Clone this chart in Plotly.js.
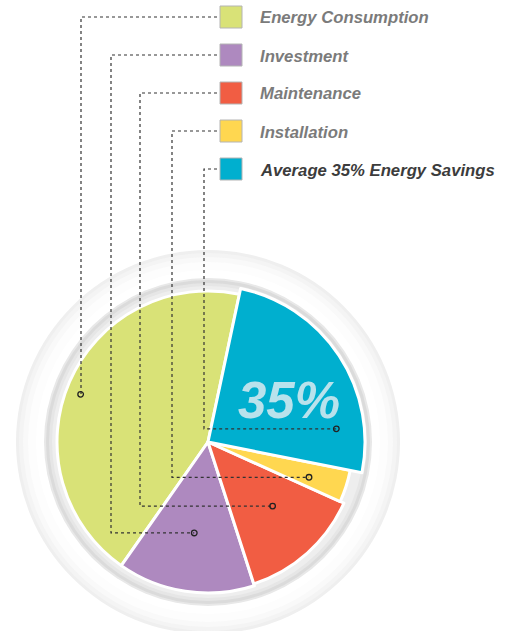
<!DOCTYPE html>
<html>
<head>
<meta charset="utf-8">
<script src="https://cdn.plot.ly/plotly-3.0.1.min.js"></script>
<style>html,body{margin:0;padding:0;background:#fff;}#chart{width:507px;height:631px;}</style>
</head>
<body>
<div id="chart"></div>
<script>
// ---- data ----
const categories = ['Energy Consumption', 'Investment', 'Maintenance', 'Installation', 'Average 35% Energy Savings'];
const shares = [43.6, 14.7, 13.3, 3.6, 24.8];
const highlightLabel = '35%';

// ---- style ----
const colors = ['#d9e277', '#ae89bf', '#f15d43', '#ffd750', '#00afcf'];
const W = 507, H = 631;
const cx = 208, cy = 442;            // pie centre (px)
const sliceRadius = [151, 151, 149, 145, 157];
const dotRadius = [136, 92, 91, 107, 129];
const dotAngleNudge = [-3, 0, -3.4, 1.5, 27.5];
const startAngle = 12;               // degrees clockwise from 12 o'clock (green/cyan boundary)
const rowY = [17, 55, 93, 131, 169];
const leaderX = [81, 111, 140, 172, 204];
const swatchX = 220, swatchSize = 22, textX = 258;
const textColors = ['#7b7b7b', '#7b7b7b', '#7b7b7b', '#7b7b7b', '#3c3c3c'];

const px = x => x / W;
const py = y => 1 - y / H;
const total = shares.reduce((a, b) => a + b, 0);
// plotly counterclockwise: first slice spans [rotation, rotation + share] clockwise
const rotation = startAngle - shares[0] / total * 360;

// pie traces: one per slice so each can have its own radius
const traces = categories.map((c, i) => {
  const r = sliceRadius[i];
  return {
    type: 'pie',
    labels: categories,
    values: shares,
    sort: false,
    direction: 'counterclockwise',
    rotation: rotation,
    textinfo: 'none',
    hoverinfo: 'none',
    showlegend: false,
    marker: {
      colors: colors.map((col, j) => j === i ? col : 'rgba(0,0,0,0)'),
      line: { color: '#ffffff', width: categories.map((_, j) => j === i ? 3 : 0) }
    },
    domain: { x: [px(cx - r), px(cx + r)], y: [py(cy + r), py(cy - r)] }
  };
});

// slice mid angles from the data (clockwise from north)
let acc = 0;
const midAngles = shares.map(v => {
  const a0 = startAngle - acc / total * 360;
  acc += v;
  const a1 = startAngle - acc / total * 360;
  return (a0 + a1) / 2;
});

const shapes = [];
// background discs
const discs = [
  [192, '#efefef'], [189, '#f4f4f4'], [185, '#f9f9f9'], [180, '#fdfdfd'], [172, '#ffffff'],
  [164, '#e8e8e8'], [162, '#dbdbdb'], [159, '#e6e6e6'], [156, '#eeeeee']
];
discs.forEach(([r, col]) => {
  shapes.push({ type: 'circle', xref: 'paper', yref: 'paper', layer: 'below',
    x0: px(cx - r), x1: px(cx + r), y0: py(cy + r), y1: py(cy - r),
    fillcolor: col, line: { width: 0 } });
});

const annotations = [];
categories.forEach((c, i) => {
  const ang = (midAngles[i] + dotAngleNudge[i]) * Math.PI / 180;
  const dx = cx + dotRadius[i] * Math.sin(ang);
  const dy = cy - dotRadius[i] * Math.cos(ang);
  // leader line
  shapes.push({ type: 'path', xref: 'paper', yref: 'paper', layer: 'above',
    path: `M ${px(swatchX - 3)} ${py(rowY[i])} L ${px(leaderX[i])} ${py(rowY[i])} L ${px(leaderX[i])} ${py(dy)} L ${px(dx)} ${py(dy)}`,
    line: { color: '#333333', width: 1.2, dash: 'dot' } });
  // dot
  shapes.push({ type: 'circle', xref: 'paper', yref: 'paper', layer: 'above',
    x0: px(dx - 2.8), x1: px(dx + 2.8), y0: py(dy + 2.8), y1: py(dy - 2.8),
    fillcolor: 'rgba(0,0,0,0)', line: { color: '#222222', width: 1.3 } });
  // legend swatch
  shapes.push({ type: 'rect', xref: 'paper', yref: 'paper', layer: 'above',
    x0: px(swatchX), x1: px(swatchX + swatchSize), y0: py(rowY[i] + swatchSize / 2), y1: py(rowY[i] - swatchSize / 2),
    fillcolor: colors[i], line: { color: '#b4b4b4', width: 1 } });
  annotations.push({ xref: 'paper', yref: 'paper', x: px(textX), y: py(rowY[i] + 1), xanchor: 'left', yanchor: 'middle',
    showarrow: false, text: '<b><i>' + c + '</i></b>',
    font: { family: 'Liberation Sans, Arial, sans-serif', size: 16.7, color: textColors[i] } });
});

annotations.push({ xref: 'paper', yref: 'paper', x: px(289), y: py(400), xanchor: 'center', yanchor: 'middle',
  showarrow: false, text: '<b><i>' + highlightLabel + '</i></b>',
  font: { family: 'Liberation Sans, Arial, sans-serif', size: 51, color: '#b9e2ec' } });

const layout = {
  width: W, height: H,
  margin: { l: 0, r: 0, t: 0, b: 0 },
  paper_bgcolor: '#ffffff',
  showlegend: false,
  shapes: shapes,
  annotations: annotations
};

Plotly.newPlot('chart', traces, layout, { staticPlot: true, displayModeBar: false });
</script>
</body>
</html>
